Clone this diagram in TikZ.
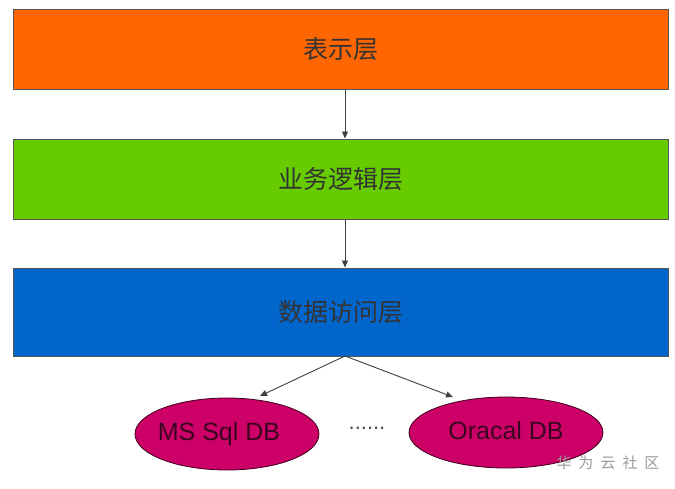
\documentclass[tikz,border=0pt]{standalone}
\usepackage{fontspec}
\setmainfont{Liberation Sans}
\newfontfamily\cjk{Noto Sans CJK SC}
\usetikzlibrary{shapes.geometric,arrows.meta}
\definecolor{layerorange}{HTML}{FF6600}
\definecolor{layergreen}{HTML}{66CC00}
\definecolor{layerblue}{HTML}{0066CC}
\definecolor{dbmagenta}{HTML}{CC0066}
\definecolor{edgegray}{HTML}{555555}
\definecolor{dbtext}{HTML}{3A0520}
\definecolor{wmgray}{HTML}{9A9A9A}
\tikzset{
  layer/.style={draw=edgegray, line width=1pt, minimum width=655pt, inner sep=0pt,
    font=\cjk\fontsize{25}{28}\selectfont, text=black!80},
  db/.style={ellipse, draw=black!70!dbmagenta, line width=0.8pt, fill=dbmagenta, inner sep=0pt,
    font=\fontsize{25}{28}\selectfont, text=dbtext},
  link/.style={draw=black!75, line width=0.9pt, -{Triangle[length=7pt,width=6pt]}}
}
\begin{document}
\begin{tikzpicture}[x=1pt,y=-1pt]
\useasboundingbox[fill=white] (0,0) rectangle (675,488);
\node[layer, fill=layerorange, minimum height=80pt] (pres) at (340.5,49) {表示层};
\node[layer, fill=layergreen, minimum height=80pt] (biz) at (340.5,179) {业务逻辑层};
\node[layer, fill=layerblue, minimum height=88pt] (data) at (340.5,312) {数据访问层};
\node[db, minimum width=184pt, minimum height=72pt] (ms) at (227,434) {\hspace{-16pt}MS Sql DB};
\node[db, minimum width=194pt, minimum height=71pt] (ora) at (506,432.5) {\raisebox{4pt}{Oracal DB}\hspace{4pt}};
\coordinate (split) at (345,356);
\draw[link] (pres.south -| split) -- (biz.north -| split);
\draw[link] (biz.south -| split) -- (data.north -| split);
\draw[link] (split) -- (260,396);
\draw[link] (split) -- (453,397);
\node[font=\fontsize{22}{24}\selectfont, text=black!70] (dots) at (367,428) {......};
\node[font=\cjk\fontsize{15}{17}\selectfont, text=wmgray] (wm) at (608,463) {华\hspace{7pt}为\hspace{7pt}云\hspace{7pt}社\hspace{7pt}区};
\end{tikzpicture}
\end{document}
